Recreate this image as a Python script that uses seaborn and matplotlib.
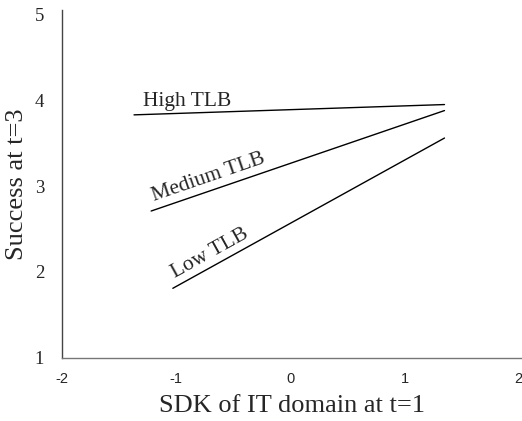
import pandas as pd
import matplotlib
matplotlib.use("Agg")
import matplotlib.pyplot as plt
import seaborn as sns

# values
levels = ['High TLB', 'Medium TLB', 'Low TLB']
x_start = [-1.37, -1.22, -1.03]
x_end = [1.35, 1.35, 1.35]
y_start = [3.83, 2.71, 1.81]
y_end = [3.95, 3.88, 3.56]
x_ticks = [-2, -1, 0, 1, 2]
y_ticks = [1, 2, 3, 4, 5]

rows = []
for lev, x0, x1, y0, y1 in zip(levels, x_start, x_end, y_start, y_end):
    rows.append({'level': lev, 'x': x0, 'y': y0})
    rows.append({'level': lev, 'x': x1, 'y': y1})
df = pd.DataFrame(rows)

sns.set_style('white')
plt.rcParams['font.family'] = ['Liberation Serif', 'DejaVu Serif']

fig = plt.figure(figsize=(5.22, 4.21), dpi=100)
ax = fig.add_axes([0.119, 0.150, 0.879, 0.826])

sns.lineplot(data=df, x='x', y='y', hue='level', palette=['black'] * 3,
             linewidth=1.0, legend=False, ax=ax)

ax.set_xlim(-2, 2.02)
ax.set_ylim(1, 5.05)
ax.set_xticks(x_ticks)
ax.set_yticks(y_ticks)
ax.set_xticklabels([str(t) for t in x_ticks], family='Liberation Sans', fontsize=10.5)
ax.set_yticklabels([str(t) for t in y_ticks], fontsize=13.5)
ax.tick_params(axis='x', length=0, pad=10)
ax.tick_params(axis='y', length=0, pad=13)

for side in ['top', 'right']:
    ax.spines[side].set_visible(False)
ax.spines['left'].set_color('#444444')
ax.spines['bottom'].set_color('#777777')
ax.spines['left'].set_linewidth(1.0)
ax.spines['bottom'].set_linewidth(1.0)

ax.set_xlabel('SDK of IT domain at t=1', fontsize=19, labelpad=7)
ax.set_ylabel('Success at t=3', fontsize=19, labelpad=5)

ax.text(-1.29, 3.88, 'High TLB', fontsize=15.5, rotation=0, ha='left', va='bottom')
ax.text(-1.18, 2.77, 'Medium TLB', fontsize=15.5, rotation=19, ha='left', va='bottom',
        rotation_mode='anchor')
ax.text(-0.99, 1.88, 'Low TLB', fontsize=15.5, rotation=29, ha='left', va='bottom',
        rotation_mode='anchor')

fig.savefig('out.png', dpi=100)
